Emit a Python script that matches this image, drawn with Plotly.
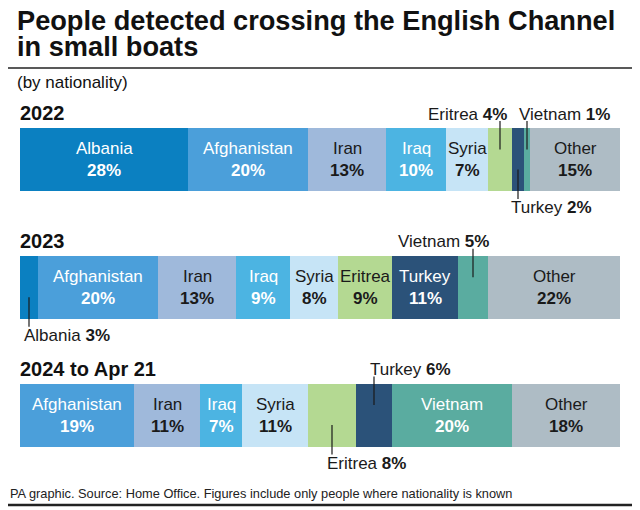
import plotly.graph_objects as go

# ---------------- data ----------------
years = ["2022", "2023", "2024 to Apr 21"]
nationalities = ["Albania", "Afghanistan", "Iran", "Iraq", "Syria",
                 "Eritrea", "Turkey", "Vietnam", "Other"]
albania = [28, 3, 0]
afghanistan = [20, 20, 19]
iran = [13, 13, 11]
iraq = [10, 9, 7]
syria = [7, 8, 11]
eritrea = [4, 9, 8]
turkey = [2, 11, 6]
vietnam = [1, 5, 20]
other = [15, 22, 18]

values = [albania, afghanistan, iran, iraq, syria, eritrea, turkey, vietnam, other]

colors = {
    "Albania": "#0b80c1", "Afghanistan": "#4b9fda", "Iran": "#9fb9db",
    "Iraq": "#4cb4e2", "Syria": "#c6e4f6", "Eritrea": "#b4d992",
    "Turkey": "#2b5279", "Vietnam": "#5aaca0", "Other": "#aebcc5",
}
text_colors = {
    "Albania": "white", "Afghanistan": "white", "Iran": "#1a1a1a",
    "Iraq": "white", "Syria": "#1a1a1a", "Eritrea": "#1a1a1a",
    "Turkey": "white", "Vietnam": "white", "Other": "#1a1a1a",
}

# labels placed outside the bar: (year index, nationality) -> (side, anchor px x, xanchor)
outside = {
    (0, "Eritrea"): ("above", 509, "right"),
    (0, "Vietnam"): ("above", 517, "left"),
    (0, "Turkey"): ("below", 509, "left"),
    (1, "Vietnam"): ("above", 396, "left"),
    (1, "Albania"): ("below", 22, "left"),
    (2, "Turkey"): ("above", 368, "left"),
    (2, "Eritrea"): ("below", 325, "left"),
}

# ---------------- layout geometry ----------------
W, H = 640, 510
OFF = 8            # page body margin offset
X0, X1 = 20, 620
TOP_CENTER = 159.5
STEP = 127.75
BAR_PX = 63
FONT = "Liberation Sans, Arial, sans-serif"
DARK = "#1a1a1a"


def py(p):
    return 1 - (p - OFF) / H


def px_(p):
    return max(p - OFF, 0) / W


fig = go.Figure()
for name, vals in zip(nationalities, values):
    fig.add_trace(go.Bar(
        y=years, x=vals, orientation="h", name=name,
        marker=dict(color=colors[name], line=dict(width=0)),
        width=BAR_PX / STEP, hoverinfo="x+name", showlegend=False,
    ))

annotations = []
shapes = []

for i, year in enumerate(years):
    center = TOP_CENTER + i * STEP
    start = 0
    for name, vals in zip(nationalities, values):
        v = vals[i]
        mid = start + v / 2
        start += v
        if v == 0:
            continue
        key = (i, name)
        if key in outside:
            side, ax, xa = outside[key]
            if side == "above":
                ty = center - BAR_PX / 2 - 14
                y0, y1 = center - BAR_PX / 2 - 7, center - 10
            else:
                ty = center + BAR_PX / 2 + 17
                y0, y1 = center + 10, center + BAR_PX / 2 + 8
            annotations.append(dict(
                x=px_(ax), y=py(ty), xref="paper", yref="paper",
                xanchor=xa, yanchor="middle", showarrow=False,
                text=f"{name} <b>{v}%</b>",
                font=dict(family=FONT, size=17, color=DARK),
            ))
            shapes.append(dict(
                type="line", xref="x", yref="paper",
                x0=mid, x1=mid, y0=py(y0), y1=py(y1),
                line=dict(color=DARK, width=1.2),
            ))
        else:
            tc = text_colors[name]
            annotations.append(dict(
                x=mid, y=py(center - 11), xref="x", yref="paper",
                xanchor="center", yanchor="middle", showarrow=False,
                text=name, font=dict(family=FONT, size=17, color=tc),
            ))
            annotations.append(dict(
                x=mid, y=py(center + 11), xref="x", yref="paper",
                xanchor="center", yanchor="middle", showarrow=False,
                text=f"<b>{v}%</b>", font=dict(family=FONT, size=17, color=tc),
            ))
    # year heading
    annotations.append(dict(
        x=px_(18), y=py(center - BAR_PX / 2 - 15), xref="paper", yref="paper",
        xanchor="left", yanchor="middle", showarrow=False,
        text=f"<b>{year}</b>", font=dict(family=FONT, size=20, color="#111111"),
    ))

# title & subtitle & footer
annotations += [
    dict(x=px_(15), y=py(20), xref="paper", yref="paper", xanchor="left",
         yanchor="middle", showarrow=False,
         text="<b>People detected crossing the English Channel</b>",
         font=dict(family=FONT, size=27.2, color="#111111")),
    dict(x=px_(15), y=py(47), xref="paper", yref="paper", xanchor="left",
         yanchor="middle", showarrow=False, text="<b>in small boats</b>",
         font=dict(family=FONT, size=27.2, color="#111111")),
    dict(x=px_(15), y=py(82), xref="paper", yref="paper", xanchor="left",
         yanchor="middle", showarrow=False, text="(by nationality)",
         font=dict(family=FONT, size=17, color="#111111")),
    dict(x=px_(4), y=py(493), xref="paper", yref="paper", xanchor="left",
         yanchor="middle", showarrow=False,
         text="PA graphic. Source: Home Office. Figures include only people where nationality is known",
         font=dict(family=FONT, size=12.8, color="#222222")),
]

shapes += [
    dict(type="line", xref="paper", yref="paper", x0=0, x1=1,
         y0=py(68), y1=py(68), line=dict(color="#222222", width=1.5)),
    dict(type="line", xref="paper", yref="paper", x0=0, x1=1,
         y0=py(505), y1=py(505), line=dict(color="#222222", width=2.5)),
]

y_top = -(TOP_CENTER - OFF) / STEP
y_bot = (H - (TOP_CENTER - OFF)) / STEP

fig.update_layout(
    width=W, height=H,
    margin=dict(l=0, r=0, t=0, b=0),
    paper_bgcolor="white", plot_bgcolor="white",
    barmode="stack", bargap=0,
    xaxis=dict(domain=[(X0 - OFF) / W, (X1 - OFF) / W], range=[0, 100],
               visible=False, fixedrange=True),
    yaxis=dict(type="category", range=[y_bot, y_top], visible=False, fixedrange=True),
    annotations=annotations, shapes=shapes,
)

fig.write_html("out.html")
